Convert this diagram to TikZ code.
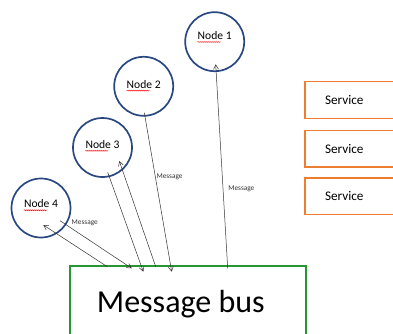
\documentclass[tikz,border=0pt]{standalone}
\usepackage{fontspec}
\setmainfont{Carlito}
\usetikzlibrary{arrows.meta,calc,decorations.pathmorphing}

\definecolor{nodeblue}{RGB}{41,72,130}
\definecolor{busgreen}{RGB}{40,150,50}
\definecolor{svcorange}{RGB}{237,125,49}

\begin{document}
\begin{tikzpicture}[x=1pt, y=1pt]

  \tikzstyle{nodecirc} = [circle, draw=nodeblue, line width=1.7pt, minimum size=59pt, inner sep=0pt]
  \tikzstyle{nodetxt}  = [font=\fontsize{11.6}{13}\selectfont, inner sep=0pt]
  \tikzstyle{squig}    = [red, line width=0.45pt, decorate, decoration={snake, amplitude=0.5pt, segment length=2pt}]
  \tikzstyle{msgbus}   = [rectangle, draw=busgreen, line width=1.6pt, minimum width=236pt, minimum height=76pt, inner sep=0pt]
  \tikzstyle{bustxt}   = [font=\fontsize{32}{36}\selectfont, inner sep=0pt]
  \tikzstyle{service}  = [draw=svcorange, line width=1.4pt, minimum height=36.6pt, text width=60pt,
                          align=left, inner xsep=20pt, anchor=west, font=\fontsize{13.2}{15}\selectfont]
  \tikzstyle{msgarrow} = [draw=black!80, line width=0.5pt, -{Straight Barb[length=4.5pt,width=5pt]}]
  \tikzstyle{msg}      = [font=\fontsize{7.3}{8}\selectfont, inner sep=0pt, text=black!80]

  \path[use as bounding box, clip] (0,0) rectangle (393,333);

  % ---- NODES ----
  \node[nodecirc] (n1) at (214.7,291.3) {};
  \node[nodecirc] (n2) at (143.7,246.7) {};
  \node[nodecirc] (n3) at (102.5,185.5) {};
  \node[nodecirc] (n4) at (41,125)      {};

  \node[nodetxt] (t1) at ([yshift=6]n1.center)  {Node 1};
  \node[nodetxt] (t2) at ([yshift=2]n2.center)  {Node 2};
  \node[nodetxt] (t3) at ([yshift=3]n3.center)  {Node 3};
  \node[nodetxt] (t4) at ([yshift=4]n4.center)  {Node 4};

  % spell-check marks under "Node"
  \foreach \lbl in {t1,t2,t3,t4}{
    \draw[squig] ([yshift=-2]\lbl.south west) -- ++(23,0);
  }

  % ---- MESSAGE BUS ----
  \node[msgbus, anchor=north west] (bus) at (69,68) {};
  \node[bustxt] (bustext) at ([xshift=-7]bus.center) {Message bus};

  % ---- SERVICES ----
  \node[service] (s1) at (304.3,233)   {Service};
  \node[service] (s2) at (304.3,184.3) {Service};
  \node[service] (s3) at (304.3,136.8) {Service};

  % ---- ARROW ENDS ----
  \coordinate (tail1) at ($(bus.north west)+(158.7,-3.3)$);
  \coordinate (head1) at ($(n1)+(1,-22.6)$);
  \coordinate (tail2) at ($(n2)+(0.6,-26.4)$);
  \coordinate (head2) at ($(bus.north west)+(102.7,-6.7)$);
  \coordinate (tail3) at ($(bus.north west)+(86.7,-1.7)$);
  \coordinate (head3) at ($(n3)+(16.8,-13.5)$);
  \coordinate (tail4) at ($(n3)+(5.2,-24.8)$);
  \coordinate (head4) at ($(bus.north west)+(74.3,-6.7)$);
  \coordinate (tail5) at ($(n4)+(19,-12.7)$);
  \coordinate (head5) at ($(bus.north west)+(62.7,-3.3)$);
  \coordinate (tail6) at ($(bus.north west)+(38.3,-1.7)$);
  \coordinate (head6) at ($(n4)+(2.3,-17)$);

  % ---- MESSAGES ----
  \draw[msgarrow] (tail1) -- node[msg, pos=0.39, anchor=west, xshift=5pt] (m1) {Message} (head1);  % bus -> node 1
  \draw[msgarrow] (tail2) -- node[msg, pos=0.40, anchor=west, xshift=1pt] (m2) {Message} (head2);  % node 2 -> bus
  \draw[msgarrow] (tail3) -- (head3);                                                           % bus -> node 3
  \draw[msgarrow] (tail4) -- (head4);                                                           % node 3 -> bus
  \draw[msgarrow] (tail5) -- node[msg, pos=0.16, anchor=south west, yshift=2pt] (m5) {Message} (head5); % node 4 -> bus
  \draw[msgarrow] (tail6) -- (head6);                                                           % bus -> node 4

\end{tikzpicture}
\end{document}
